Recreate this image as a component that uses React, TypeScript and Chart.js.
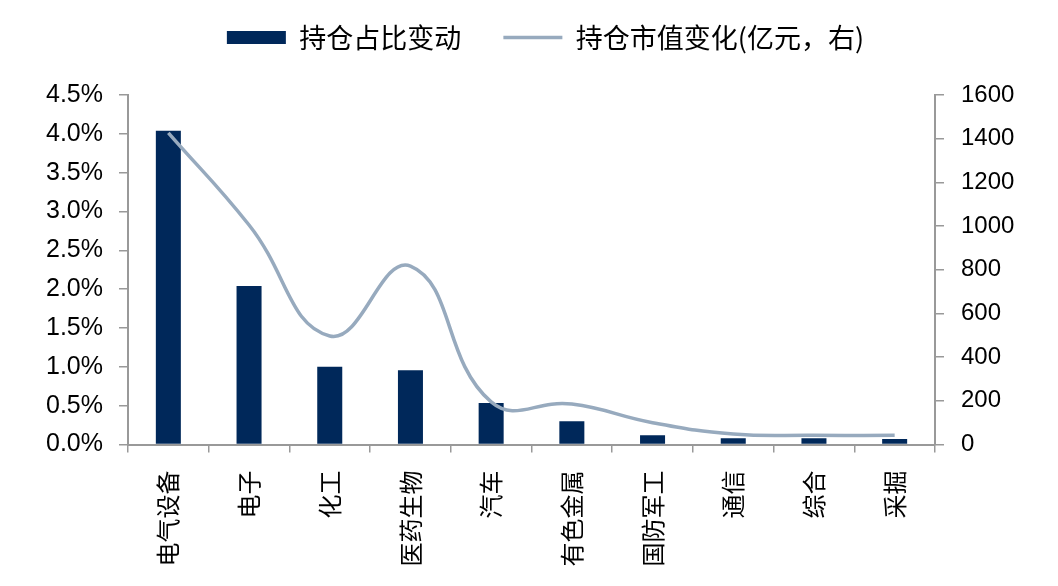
import React, { useEffect, useRef } from 'react';
import { Chart, registerables } from 'chart.js';

Chart.register(...registerables);

// ---- data ----
const categories = ['电气设备', '电子', '化工', '医药生物', '汽车', '有色金属', '国防军工', '通信', '综合', '采掘'];
const holdingShareChange = [4.04, 2.04, 1.0, 0.955, 0.534, 0.3, 0.12, 0.08, 0.08, 0.07]; // %
const holdingValueChange = [1427, 1005, 497, 817, 195, 185, 100, 48, 42, 42]; // 亿元
const leftAxisRange = [0, 4.5, 0.5];
const rightAxisRange = [0, 1600, 200];
const seriesNames = ['持仓占比变动', '持仓市值变化(亿元，右)'];

const BAR_COLOR = '#00285A';
const LINE_COLOR = '#97AABE';
const AXIS_COLOR = '#999999';
const CJK_FONT = '"Noto Sans CJK SC", "Noto Sans", sans-serif';
const NUM_FONT = '"Liberation Sans", Arial, sans-serif';

const legendSpacer = {
  id: 'legendSpacer',
  beforeLayout(chart: any) {
    const lg = chart.legend;
    if (lg && !lg._spacerPatched) {
      const orig = lg.fit.bind(lg);
      lg.fit = function () {
        orig();
        this.height += 34;
      };
      lg._spacerPatched = true;
    }
  },
};

export default function App() {
  const canvasRef = useRef<HTMLCanvasElement | null>(null);

  useEffect(() => {
    const canvas = canvasRef.current;
    if (!canvas) return;
    const chart = new Chart(canvas, {
      type: 'bar',
      data: {
        labels: categories,
        datasets: [
          {
            type: 'line',
            label: seriesNames[1],
            data: holdingValueChange,
            yAxisID: 'y1',
            borderColor: LINE_COLOR,
            backgroundColor: LINE_COLOR,
            borderWidth: 3.5,
            pointRadius: 0,
            pointHoverRadius: 0,
            tension: 0.45,
            fill: false,
            order: 0,
          } as any,
          {
            type: 'bar',
            label: seriesNames[0],
            data: holdingShareChange,
            yAxisID: 'y',
            backgroundColor: BAR_COLOR,
            borderWidth: 0,
            barPercentage: 0.31,
            categoryPercentage: 1.0,
            order: 1,
          } as any,
        ],
      },
      options: {
        responsive: false,
        animation: false,
        layout: { padding: { top: -18, left: 33, right: 0, bottom: 0 } },
        plugins: {
          tooltip: { enabled: false },
          legend: {
            display: true,
            position: 'top',
            labels: {
              usePointStyle: true,
              pointStyleWidth: 59,
              boxHeight: 13,
              padding: 42,
              color: '#000',
              font: { family: CJK_FONT, size: 27 },
              generateLabels: () => [
                {
                  text: seriesNames[0],
                  fillStyle: BAR_COLOR,
                  strokeStyle: BAR_COLOR,
                  lineWidth: 0,
                  pointStyle: 'rect',
                  hidden: false,
                  datasetIndex: 1,
                  fontColor: '#000',
                } as any,
                {
                  text: seriesNames[1],
                  fillStyle: LINE_COLOR,
                  strokeStyle: LINE_COLOR,
                  lineWidth: 3.5,
                  pointStyle: 'line',
                  hidden: false,
                  datasetIndex: 0,
                  fontColor: '#000',
                } as any,
              ],
            },
          },
        },
        scales: {
          x: {
            type: 'category',
            offset: true,
            grid: {
              display: true,
              offset: true,
              drawOnChartArea: false,
              drawTicks: true,
              tickLength: 8,
              color: AXIS_COLOR,
              lineWidth: 1.5,
            },
            border: { display: true, color: AXIS_COLOR, width: 2 },
            ticks: {
              autoSkip: false,
              minRotation: 90,
              maxRotation: 90,
              padding: 18,
              color: '#000',
              font: { family: CJK_FONT, size: 24 },
            },
            afterFit: (s: any) => {
              s.height = 141.5;
            },
          },
          y: {
            type: 'linear',
            position: 'left',
            min: leftAxisRange[0],
            max: leftAxisRange[1],
            grid: {
              display: true,
              drawOnChartArea: false,
              drawTicks: true,
              tickLength: 9,
              color: AXIS_COLOR,
              lineWidth: 1.5,
            },
            border: { display: true, color: AXIS_COLOR, width: 2 },
            ticks: {
              stepSize: leftAxisRange[2],
              padding: 16,
              color: '#000',
              font: { family: NUM_FONT, size: 25 },
              callback: (v: any) => Number(v).toFixed(1) + '%',
            },
            afterFit: (s: any) => {
              s.width = 95;
            },
          },
          y1: {
            type: 'linear',
            position: 'right',
            min: rightAxisRange[0],
            max: rightAxisRange[1],
            grid: {
              display: true,
              drawOnChartArea: false,
              drawTicks: true,
              tickLength: 9,
              color: AXIS_COLOR,
              lineWidth: 1.5,
            },
            border: { display: true, color: AXIS_COLOR, width: 2 },
            ticks: {
              stepSize: rightAxisRange[2],
              padding: 17,
              color: '#000',
              font: { family: NUM_FONT, size: 24 },
              callback: (v: any) => String(v),
            },
            afterFit: (s: any) => {
              s.width = 123;
            },
          },
        },
      },
      plugins: [legendSpacer],
    });
    return () => {
      chart.destroy();
    };
  }, []);

  return (
    <div style={{ position: 'fixed', left: 0, top: 0, width: 1058, height: 586, background: '#fff' }}>
      <canvas ref={canvasRef} width={1058} height={586} style={{ display: 'block' }} />
    </div>
  );
}
